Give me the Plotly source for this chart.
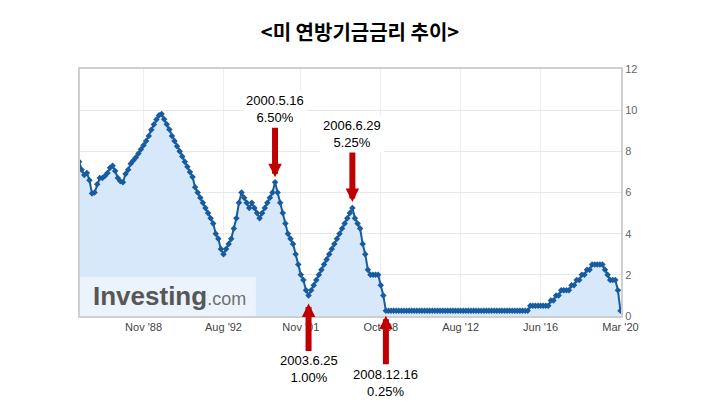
import plotly.graph_objects as go

# Fed funds target rate (upper bound), one point per rate event, evenly spaced
rates_pre_peak = [
    7.5, 7.1, 6.85, 6.95, 6.6, 5.95, 6.0, 6.4, 6.7, 6.7, 6.8, 6.95, 7.2, 7.3,
    7.05, 6.7, 6.55, 6.5, 6.9, 7.1, 7.4, 7.55, 7.7, 7.9, 8.1, 8.3, 8.5, 8.75,
    9.05, 9.3, 9.55, 9.75, 9.81,
]
rates_1989_1992 = [
    9.5625, 9.3125, 9.0625, 8.75, 8.5, 8.25, 8.0, 7.75, 7.5, 7.25, 7.0, 6.75,
    6.25, 6.0, 5.75, 5.5, 5.25, 5.0, 4.75, 4.5, 4.0, 3.75, 3.25, 3.0,
]
rates_1994_2000 = [
    3.25, 3.5, 3.75, 4.25, 4.75, 5.5, 6.0, 5.75, 5.5, 5.25, 5.5, 5.25, 5.0,
    4.75, 5.0, 5.25, 5.5, 5.75, 6.0, 6.5,
]
rates_2001_2003 = [6.0, 5.5, 5.0, 4.5, 4.0, 3.75, 3.5, 3.0, 2.5, 2.0, 1.75, 1.25, 1.0]
rates_2004_2006 = [
    1.25, 1.5, 1.75, 2.0, 2.25, 2.5, 2.75, 3.0, 3.25, 3.5, 3.75, 4.0, 4.25,
    4.5, 4.75, 5.0, 5.25,
]
rates_2007_2008 = [4.75, 4.5, 4.25, 3.5, 3.0, 2.25, 2.0, 2.0, 2.0, 2.0, 1.5, 1.0, 0.25]
rates_2009_2015 = [0.25] * 55
rates_2015_2020 = [
    0.5, 0.5, 0.5, 0.5, 0.5, 0.5, 0.5, 0.5, 0.75, 0.75, 1.0, 1.0, 1.25, 1.25,
    1.25, 1.25, 1.5, 1.5, 1.75, 1.75, 2.0, 2.0, 2.25, 2.25, 2.5, 2.5, 2.5, 2.5,
    2.5, 2.25, 2.0, 1.75, 1.75, 1.75, 1.25, 0.25,
]

rates = (
    rates_pre_peak + rates_1989_1992 + rates_1994_2000 + rates_2001_2003
    + rates_2004_2006 + rates_2007_2008 + rates_2009_2015 + rates_2015_2020
)
idx = list(range(len(rates)))

tick_idx = [25, 56, 86, 117, 148, 179, 210]
tick_text = ["Nov '88", "Aug '92", "Nov '01", "Oct '08", "Aug '12", "Jun '16", "Mar '20"]

event_idx = [76, 89, 106, 119]
event_date = ["2000.5.16", "2003.6.25", "2006.6.29", "2008.12.16"]
event_rate = ["6.50%", "1.00%", "5.25%", "0.25%"]
event_up = [False, True, False, True]

TITLE = "<미 연방기금금리 추이>"
LINE = "#175c9e"
FILL = "#d7e8fa"
RED = "#c00000"
FONT = "Liberation Sans, Arial, sans-serif"

# page body has an 8px margin, so the figure is 8px smaller than the window
W, H = 712, 407

fig = go.Figure()
fig.add_trace(
    go.Scatter(
        x=idx,
        y=rates,
        mode="lines+markers",
        line={"color": LINE, "width": 2},
        marker={"symbol": "diamond", "size": 5, "color": LINE},
        fill="tozeroy",
        fillcolor=FILL,
        hoverinfo="skip",
    )
)

annotations = []
offsets = {76: (-73, 5), 89: (74, 8), 106: (-74, 6), 119: (72, 5)}
for i, d, r, up in zip(event_idx, event_date, event_rate, event_up):
    ay, standoff = offsets[i]
    annotations.append(
        {
            "x": i,
            "y": rates[i],
            "xref": "x",
            "yref": "y",
            "text": f"{d}<br>{r}",
            "showarrow": True,
            "ax": 0,
            "ay": ay,
            "arrowhead": 2,
            "arrowsize": 0.45,
            "arrowwidth": 6,
            "arrowcolor": RED,
            "standoff": standoff,
            "bgcolor": "white" if not up else "rgba(0,0,0,0)",
            "borderpad": 2,
            "font": {"family": FONT, "size": 13, "color": "black"},
        }
    )

# investing.com watermark
annotations.append(
    {
        "x": 0.02,
        "y": 0.08,
        "xref": "paper",
        "yref": "paper",
        "xanchor": "left",
        "yanchor": "middle",
        "showarrow": False,
        "text": "<b>Investing</b><span style='color:#707070;font-size:18px'>.com</span>",
        "font": {"family": FONT, "size": 26, "color": "#575757"},
    }
)

fig.update_layout(
    width=W,
    height=H,
    margin={"l": 72, "r": 99, "t": 61, "b": 99},
    paper_bgcolor="white",
    plot_bgcolor="white",
    showlegend=False,
    title={
        "text": f"<b>{TITLE}</b>",
        "x": 352 / W,
        "xanchor": "center",
        "y": 1 - 25 / H,
        "yanchor": "middle",
        "font": {"family": "Noto Sans CJK KR", "size": 20, "color": "black"},
    },
    xaxis={
        "range": [0.34, 210.2],
        "tickvals": tick_idx,
        "ticktext": tick_text,
        "showgrid": True,
        "gridcolor": "#eeeeee",
        "showline": True,
        "linecolor": "#cfcfcf",
        "linewidth": 2,
        "mirror": True,
        "zeroline": False,
        "ticks": "",
        "tickfont": {"family": FONT, "size": 11, "color": "#444444"},
    },
    yaxis={
        "range": [0, 12],
        "dtick": 2,
        "side": "right",
        "showgrid": True,
        "gridcolor": "#e8e8e8",
        "showline": True,
        "linecolor": "#cfcfcf",
        "linewidth": 2,
        "mirror": True,
        "zeroline": False,
        "ticks": "",
        "tickfont": {"family": FONT, "size": 11, "color": "#666666"},
    },
    shapes=[
        {
            "type": "rect",
            "xref": "paper",
            "yref": "paper",
            "x0": 0,
            "x1": 0.325,
            "y0": 0,
            "y1": 0.158,
            "fillcolor": "rgba(255,255,255,0.5)",
            "line": {"width": 0},
            "layer": "above",
        }
    ],
    annotations=annotations,
)

fig.write_html("out.html")
